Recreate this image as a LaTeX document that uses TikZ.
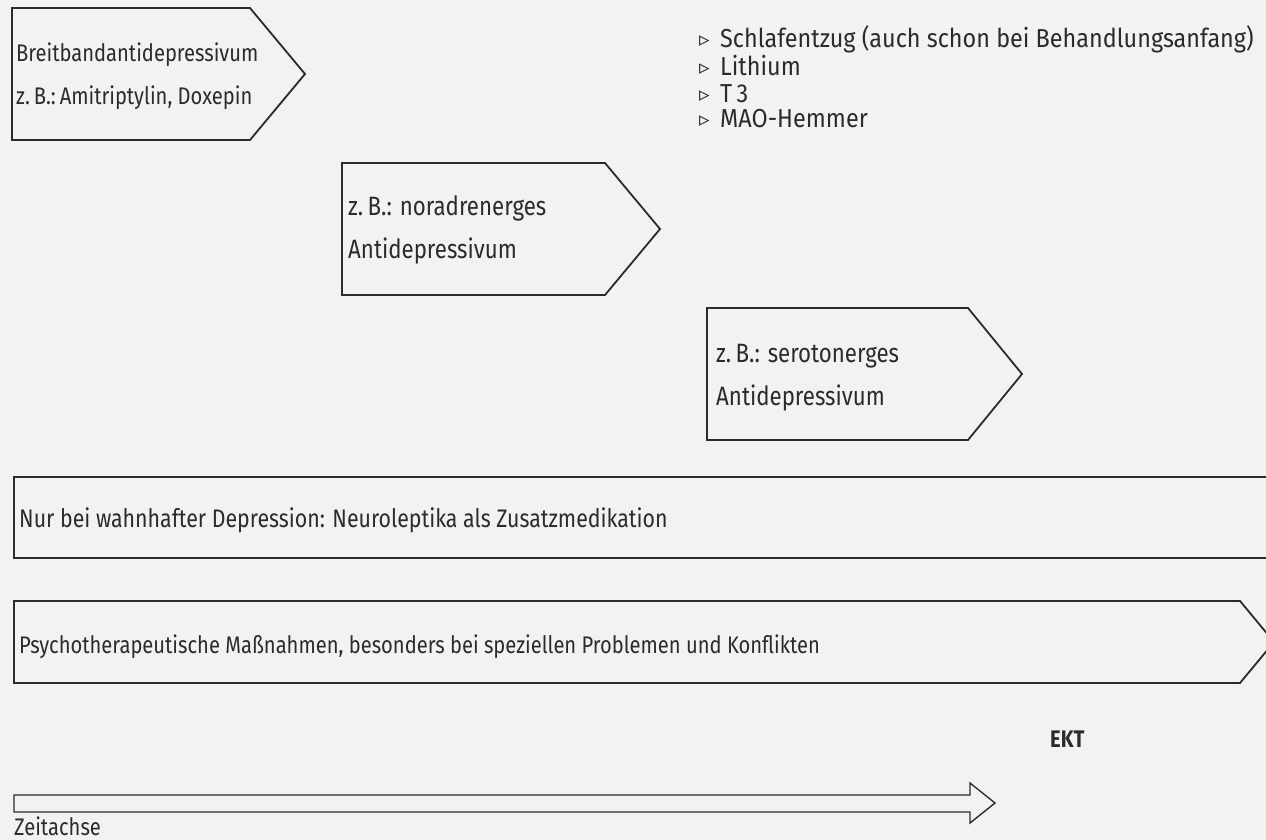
\documentclass[tikz,border=0pt]{standalone}
\usepackage{fontspec}
\setmainfont[FakeStretch=0.84]{Fira Sans}
\newfontfamily\listfont[FakeStretch=0.9]{Fira Sans}
\newfontfamily\symfont{DejaVu Sans}
\definecolor{paper}{HTML}{F2F2F0}
\definecolor{ink}{HTML}{2B2B2B}
\tikzset{
  outline/.style={draw=ink, line width=1.8pt, line join=miter},
  label/.style={anchor=base west, inner sep=0pt, text=ink, font=\fontsize{25.4}{28}\selectfont},
  smalllabel/.style={label, font=\fontsize{24}{28}\selectfont},
  boxlabel/.style={label, font=\fontsize{26.5}{28}\selectfont},
  listlabel/.style={label, font=\listfont\fontsize{26}{28}\selectfont},
  bullet/.style={anchor=base west, inner sep=0pt, text=ink, font=\symfont\fontsize{21}{22}\selectfont},
}
\begin{document}
\begin{tikzpicture}[x=1pt, y=-1pt]
\fill[paper] (0,0) rectangle (1266,840);
\useasboundingbox (0,0) rectangle (1266,840);
\begin{scope}
\clip (0,0) rectangle (1266,840);
% arrow-shaped boxes
\draw[outline] (12,8) -- (250,8) -- (305,74) -- (250,140) -- (12,140) -- cycle;
\draw[outline] (342,163) -- (605,163) -- (660,229) -- (605,295) -- (342,295) -- cycle;
\draw[outline] (707,308) -- (968,308) -- (1022,374) -- (968,440) -- (707,440) -- cycle;
\draw[outline] (1290,477) -- (14,477) -- (14,558) -- (1290,558);
\draw[outline] (14,601) -- (1240,601) -- (1274,642) -- (1240,683) -- (14,683) -- cycle;
% time axis
\draw[draw=ink, line width=1.4pt, line join=miter] (14,795) -- (970,795) -- (970,783) -- (995,803) -- (970,823) -- (970,812) -- (14,812) -- cycle;
\end{scope}
% texts in the boxes
\node[smalllabel] (b1a) at (16,62) {Breitbandantidepressivum};
\node[smalllabel] (b1b) at (16,105) {z.\,B.:\,Amitriptylin, Doxepin};
\node[boxlabel] (b2a) at (348,215) {z.\,B.: noradrenerges};
\node[boxlabel] (b2b) at (348,258) {Antidepressivum};
\node[boxlabel] (b3a) at (716,362) {z.\,B.: serotonerges};
\node[boxlabel] (b3b) at (716,405) {Antidepressivum};
\node[label] (b4) at (19,527) {Nur bei wahnhafter Depression: Neuroleptika als Zusatzmedikation};
\node[smalllabel] (b5) at (19,653) {Psychotherapeutische Maßnahmen, besonders bei speziellen Problemen und Konflikten};
% add-on measures
\foreach \y/\t [count=\i] in {48/{Schlafentzug (auch schon bei Behandlungsanfang)}, 76/Lithium, 103/T\,3, 128/MAO-Hemmer}{
  \node[bullet] (m\i) at (699,\y-1) {▹};
  \node[listlabel] (t\i) at (720,\y) {\t};
}
\node[label, font=\bfseries\fontsize{24}{28}\selectfont] (ekt) at (1050,747) {EKT};
\node[smalllabel] (axis) at (14,835) {Zeitachse};
\end{tikzpicture}
\end{document}
